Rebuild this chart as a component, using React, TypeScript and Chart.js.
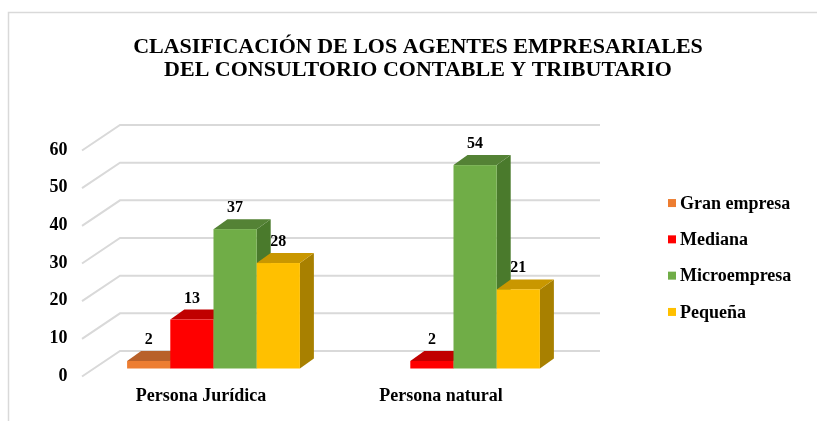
import React, { useEffect, useRef } from 'react';
import { Chart, registerables } from 'chart.js';

Chart.register(...registerables);

const titleLines = ['CLASIFICACIÓN DE LOS AGENTES EMPRESARIALES', 'DEL CONSULTORIO CONTABLE Y TRIBUTARIO'];
const categories = ['Persona Jurídica', 'Persona natural'];
const seriesNames = ['Gran empresa', 'Mediana', 'Microempresa', 'Pequeña'];
const granEmpresa = [2, 0];
const mediana = [13, 2];
const microempresa = [37, 54];
const pequena = [28, 21];
const yMin = 0;
const yMax = 60;
const yStep = 10;

const frontColors = ['#ED7D31', '#FF0000', '#70AD47', '#FFC000'];
const topColors = ['#B8612A', '#C00000', '#548235', '#C99700'];
const sideColors = ['#A9561F', '#B00000', '#4A7A2C', '#A88000'];

const FONT = "'Liberation Serif', 'Times New Roman', serif";
const DX = 14;
const DY = -10;

const bars3d = {
  id: 'bars3d',
  beforeDatasetsDraw(chart: any) {
    const { ctx, chartArea } = chart;
    const ys = chart.scales.y;
    ctx.save();
    ctx.strokeStyle = '#d9d9d9';
    ctx.lineWidth = 2;
    ys.ticks.forEach((t: any) => {
      const py = ys.getPixelForValue(t.value);
      ctx.beginPath();
      ctx.moveTo(chartArea.left - 11.5, py + 8);
      ctx.lineTo(chartArea.left + 26.5, py - 17.5);
      ctx.lineTo(chartArea.right + 26.5, py - 17.5);
      ctx.stroke();
    });
    const n = chart.data.labels.length;
    for (let i = 0; i < n; i++) {
      chart.data.datasets.forEach((ds: any, d: number) => {
        const v = ds.data[i];
        if (!v) return;
        const el = chart.getDatasetMeta(d).data[i];
        const { x, y: top, base, width } = el.getProps(['x', 'y', 'base', 'width'], true);
        const l = x - width / 2;
        const r = x + width / 2;
        ctx.fillStyle = sideColors[d];
        ctx.beginPath();
        ctx.moveTo(r, top);
        ctx.lineTo(r + DX, top + DY);
        ctx.lineTo(r + DX, base + DY);
        ctx.lineTo(r, base);
        ctx.closePath();
        ctx.fill();
        ctx.fillStyle = topColors[d];
        ctx.beginPath();
        ctx.moveTo(l, top);
        ctx.lineTo(l + DX, top + DY);
        ctx.lineTo(r + DX, top + DY);
        ctx.lineTo(r, top);
        ctx.closePath();
        ctx.fill();
        ctx.fillStyle = ds.backgroundColor;
        ctx.fillRect(l, top, width, base - top);
      });
    }
    ctx.restore();
    return false;
  },
  afterDraw(chart: any) {
    const { ctx, chartArea } = chart;
    ctx.save();
    // data labels
    ctx.fillStyle = '#000';
    ctx.font = `bold 16px ${FONT}`;
    ctx.textAlign = 'center';
    ctx.textBaseline = 'alphabetic';
    chart.data.datasets.forEach((ds: any, d: number) => {
      chart.getDatasetMeta(d).data.forEach((el: any, i: number) => {
        const v = ds.data[i];
        if (!v) return;
        const { x, y } = el.getProps(['x', 'y'], true);
        ctx.fillText(String(v), x, y + DY - 7);
      });
    });
    // legend
    ctx.font = `bold 18px ${FONT}`;
    ctx.textAlign = 'left';
    ctx.textBaseline = 'middle';
    const cy = (chartArea.top + chartArea.bottom) / 2 + 2;
    const nds = chart.data.datasets.length;
    chart.data.datasets.forEach((ds: any, d: number) => {
      const ly = cy + (d - (nds - 1) / 2) * 36.3;
      const bx = chartArea.right + 94.5;
      ctx.fillStyle = ds.backgroundColor;
      ctx.fillRect(bx, ly - 4, 8, 8);
      ctx.fillStyle = '#000';
      ctx.fillText(ds.label, bx + 12, ly + 1);
    });
    // frame
    ctx.strokeStyle = '#d9d9d9';
    ctx.lineWidth = 1.5;
    ctx.beginPath();
    ctx.moveTo(8.5, chart.height + 5);
    ctx.lineTo(8.5, 12.5);
    ctx.lineTo(chart.width + 5, 12.5);
    ctx.stroke();
    ctx.restore();
  },
};

export default function App() {
  const ref = useRef<HTMLCanvasElement>(null);
  useEffect(() => {
    if (!ref.current) return;
    const series = [granEmpresa, mediana, microempresa, pequena];
    const chart = new Chart(ref.current, {
      type: 'bar',
      data: {
        labels: categories,
        datasets: seriesNames.map((name, i) => ({
          label: name,
          data: series[i],
          backgroundColor: frontColors[i],
          categoryPercentage: 0.72,
          barPercentage: 1,
          yAxisID: 'y',
        })),
      },
      options: {
        responsive: false,
        animation: false,
        layout: { padding: { left: 19, right: 0, top: 0, bottom: 0 } },
        plugins: {
          legend: { display: false },
          tooltip: { enabled: false },
          title: {
            display: true,
            text: titleLines,
            color: '#000',
            font: { family: FONT, size: 22, weight: 'bold', lineHeight: 23 / 22 },
            padding: { top: 35.5, bottom: 61 },
          },
        },
        scales: {
          x: {
            grid: { display: false, drawTicks: false },
            border: { display: false },
            ticks: {
              color: '#000',
              font: { family: FONT, size: 18, weight: 'bold' },
              padding: 17,
              labelOffset: -12.5,
            },
            afterFit: (s: any) => { s.height = 52.5; },
          },
          y: {
            min: yMin,
            max: yMax,
            grid: { display: false, drawTicks: false },
            border: { display: false },
            ticks: {
              stepSize: yStep,
              color: '#000',
              font: { family: FONT, size: 18, weight: 'bold' },
              padding: 26,
              labelOffset: 7.5,
            },
            afterFit: (s: any) => { s.width = 74.5; },
          },
          y2: {
            position: 'right',
            grid: { display: false, drawTicks: false },
            border: { display: false },
            ticks: { display: false },
            afterFit: (s: any) => { s.width = 243.5; },
          },
        },
      },
      plugins: [bars3d],
    } as any);
    return () => chart.destroy();
  }, []);
  return (
    <canvas
      ref={ref}
      width={817}
      height={421}
      style={{ position: 'absolute', left: 0, top: 0, width: 817, height: 421, display: 'block' }}
    />
  );
}
